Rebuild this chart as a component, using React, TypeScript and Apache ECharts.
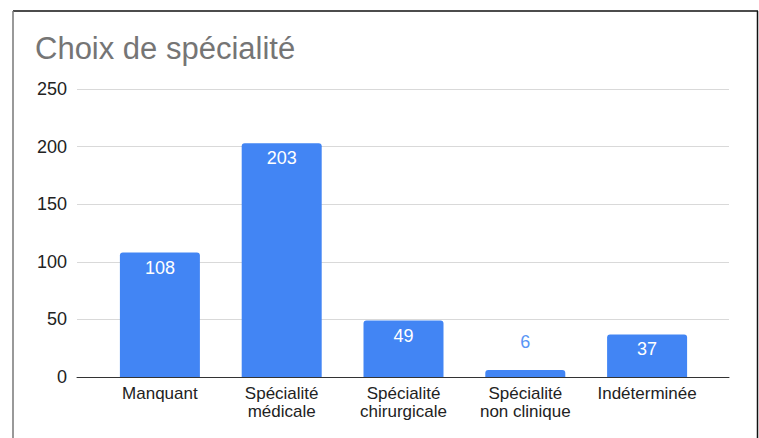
import React, { useEffect, useRef } from "react";
import * as echarts from "echarts";

const title = "Choix de spécialité";
const categories = ["Manquant", "Spécialité\nmédicale", "Spécialité\nchirurgicale", "Spécialité\nnon clinique", "Indéterminée"];
const values = [108, 203, 49, 6, 37];
const yMax = 250;
const yInterval = 50;

export default function App() {
  const ref = useRef<HTMLDivElement>(null);
  useEffect(() => {
    if (!ref.current) return;
    const chart = echarts.init(ref.current, undefined, { renderer: "svg" });
    const font = "Arial, 'Liberation Sans', sans-serif";
    chart.setOption({
      animation: false,
      backgroundColor: "#ffffff",
      title: {
        text: title,
        left: 30,
        top: 28,
        textStyle: { color: "#757575", fontSize: 31, fontWeight: "normal", fontFamily: font },
      },
      grid: [
        { left: 77, right: 30, top: 89, bottom: 61 },
        { left: 99, right: 51, top: 89, bottom: 61 },
      ],
      xAxis: [
        {
          gridIndex: 0,
          type: "value",
          show: true,
          min: 0,
          max: 1,
          axisLabel: { show: false },
          axisTick: { show: false },
          splitLine: { show: false },
          axisLine: { show: true, lineStyle: { color: "#333333", width: 1 } },
        },
        {
          gridIndex: 1,
          type: "category",
          data: categories,
          axisLine: { show: false },
          axisTick: { show: false },
          axisLabel: {
            color: "#222222",
            fontSize: 17,
            fontFamily: font,
            lineHeight: 18,
            margin: 7,
            interval: 0,
          },
        },
      ],
      yAxis: [
        {
          gridIndex: 0,
          type: "value",
          min: 0,
          max: yMax,
          interval: yInterval,
          axisLine: { show: false },
          axisTick: { show: false },
          axisLabel: { color: "#222222", fontSize: 18, fontFamily: font, margin: 10 },
          splitLine: { lineStyle: { color: "#d9d9d9", width: 1 } },
        },
        {
          gridIndex: 1,
          type: "value",
          min: 0,
          max: yMax,
          interval: yInterval,
          show: false,
          splitLine: { show: false },
        },
      ],
      series: [
        {
          type: "bar",
          xAxisIndex: 1,
          yAxisIndex: 1,
          barWidth: 80,
          itemStyle: { color: "#4285F4", borderRadius: [3, 3, 0, 0] },
          data: values.map((v) => ({
            value: v,
            label:
              v < 20
                ? { show: true, position: "top", distance: 19, color: "#5a95f5" }
                : { show: true, position: "insideTop", distance: 6, color: "#ffffff" },
          })),
          label: { fontSize: 18, fontFamily: font },
        },
      ],
      graphic: [
        { type: "line", shape: { x1: 13, y1: 11, x2: 758, y2: 11 }, style: { stroke: "#111111", lineWidth: 1.5 } },
        { type: "line", shape: { x1: 13, y1: 11, x2: 13, y2: 438 }, style: { stroke: "#777777", lineWidth: 1.5 } },
        { type: "line", shape: { x1: 757.5, y1: 11, x2: 757.5, y2: 438 }, style: { stroke: "#111111", lineWidth: 1.5 } },
      ],
    });
    return () => chart.dispose();
  }, []);
  return (
    <div style={{ position: "fixed", left: 0, top: 0, width: 759, height: 438, background: "#fff" }}>
      <div ref={ref} style={{ width: 759, height: 438 }} />
    </div>
  );
}
